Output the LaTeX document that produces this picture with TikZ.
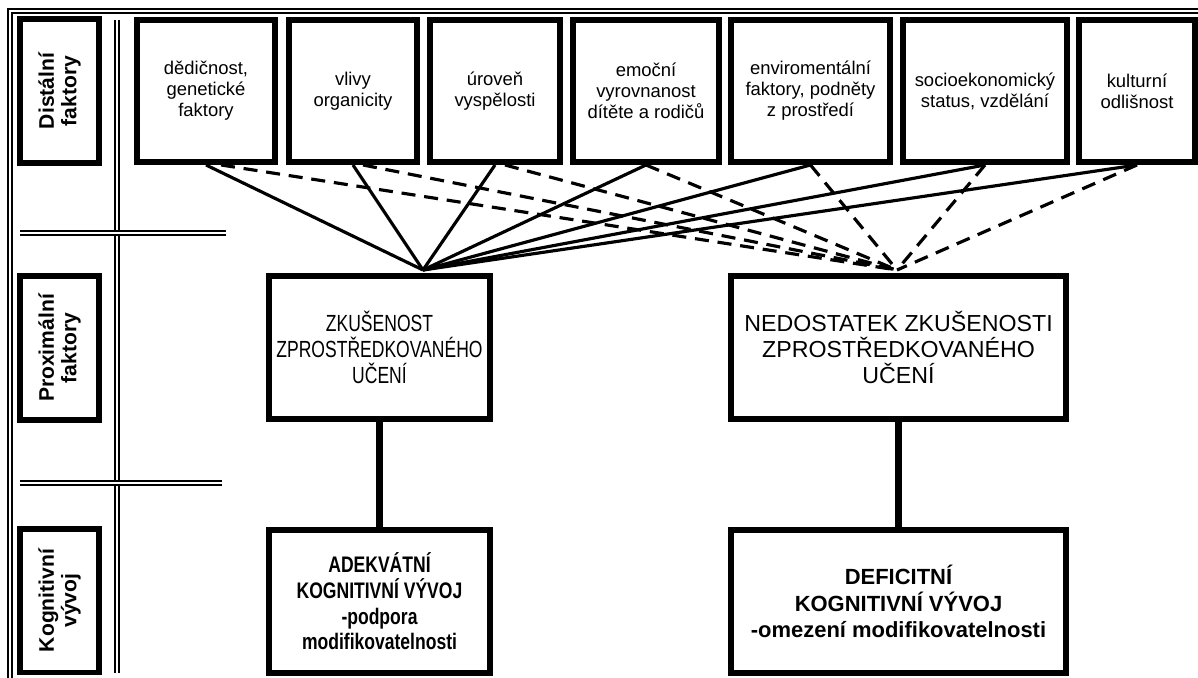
\documentclass[tikz,border=0pt]{standalone}
\usepackage{fontspec}
\setmainfont{Liberation Sans}
\newfontfamily\narrowsf[FakeStretch=0.75]{Liberation Sans}
\newfontfamily\narrowbf[FakeStretch=0.78]{Liberation Sans}
\usetikzlibrary{positioning}

\begin{document}
\begin{tikzpicture}[x=0.02cm, y=-0.02cm, node distance=2.1cm,
  box/.style={draw, line width=3.4pt, align=center, inner sep=2pt},
  topbox/.style={box, minimum height=2.84cm, font=\fontsize{10.5}{12}\selectfont},
  sidebox/.style={box, rotate=90, minimum width=2.88cm, minimum height=1.58cm, font=\bfseries\fontsize{12}{12.8}\selectfont},
  midbox/.style={box, minimum height=2.86cm},
  link/.style={line width=1.8pt},
  dashlink/.style={line width=1.8pt, dash pattern=on 8pt off 5pt},
  stem/.style={line width=4.2pt},
  rule/.style={double, line width=1.1pt, double distance=1.3pt}]
\useasboundingbox (0,0) rectangle (1198,677);
\draw[rule] (10,680) -- (10,11) -- (1200,11);
\draw[rule] (117,20) -- (117,673);
\draw[rule] (20,233) -- (226,233);
\draw[rule] (20,483) -- (222,483);
\node[sidebox] (dist) at (59.5,91) {Distální\\faktory};
\node[sidebox] (prox) at (59.5,348) {Proximální\\faktory};
\node[sidebox] (kogn) at (59.5,600.5) {Kognitivní\\vývoj};
\node[topbox, minimum width=2.76cm] (dedic) at (206,91) {dědičnost,\\genetické\\faktory};
\node[topbox, minimum width=2.56cm] (vlivy) at (353,91) {vlivy\\organicity};
\node[topbox, minimum width=2.6cm] (uroven) at (495,91) {úroveň\\vyspělosti};
\node[topbox, minimum width=2.92cm] (emocni) at (646,91) {emoční\\vyrovnanost\\dítěte a rodičů};
\node[topbox, minimum width=3.18cm] (enviro) at (810.5,91) {enviromentální\\faktory, podněty\\z prostředí};
\node[topbox, minimum width=3.28cm] (socio) at (985,91) {socioekonomický\\status, vzdělání};
\node[topbox, minimum width=2.32cm] (kultura) at (1137,91) {kulturní\\odlišnost};
\node[midbox, minimum width=4.42cm, font=\narrowsf\fontsize{13.3}{14.8}\selectfont] (zkus) at (379.5,347.5) {ZKUŠENOST\\ZPROSTŘEDKOVANÉHO\\UČENÍ};
\node[midbox, minimum width=6.7cm, font=\fontsize{13.2}{14.8}\selectfont] (nedost) at (898.5,347.5) {NEDOSTATEK ZKUŠENOSTI\\ZPROSTŘEDKOVANÉHO\\UČENÍ};
\node[midbox, minimum width=4.42cm, font=\narrowbf\bfseries\fontsize{12.8}{14.6}\selectfont, below=of zkus] (adekv) {ADEKVÁTNÍ\\KOGNITIVNÍ VÝVOJ\\-podpora\\modifikovatelnosti};
\node[midbox, minimum width=6.7cm, font=\bfseries\fontsize{12.5}{15}\selectfont, below=of nedost] (defic) {DEFICITNÍ\\KOGNITIVNÍ VÝVOJ\\-omezení modifikovatelnosti};
\coordinate (aL) at (423,270);
\coordinate (aR) at (897,270);
\draw[link] (dedic.south) -- (aL);
\draw[link] (vlivy.south) -- (aL);
\draw[link] (uroven.south) -- (aL);
\draw[link] (emocni.south) -- (aL);
\draw[link] (enviro.south) -- (aL);
\draw[link] (socio.south) -- (aL);
\draw[link] (kultura.south) -- (aL);
\draw[dashlink] ([xshift=0.3cm]dedic.south) -- (aR);
\draw[dashlink] ([xshift=0.2cm]vlivy.south) -- (aR);
\draw[dashlink] ([xshift=0.2cm]uroven.south) -- (aR);
\draw[dashlink] (emocni.south) -- (aR);
\draw[dashlink] (enviro.south) -- (aR);
\draw[dashlink] (socio.south) -- (aR);
\draw[dashlink] (kultura.south) -- (aR);
\draw[stem] (zkus) -- (adekv);
\draw[stem] (nedost) -- (defic);
\end{tikzpicture}
\end{document}
